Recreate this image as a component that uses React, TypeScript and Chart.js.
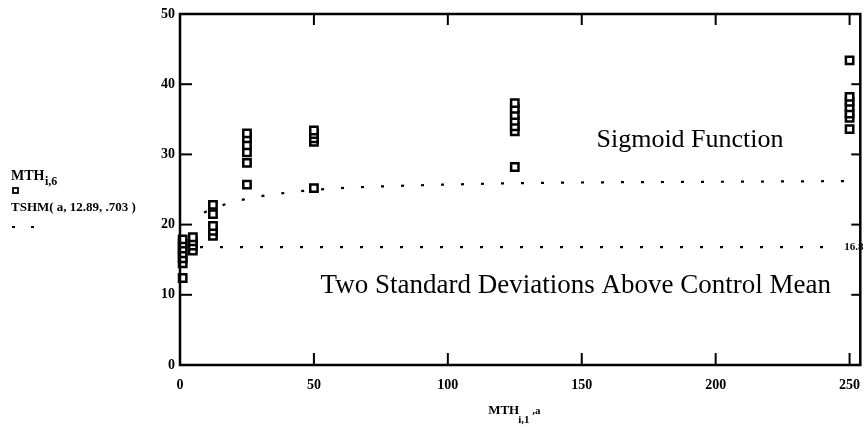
import React, { useEffect, useRef } from "react";
import { Chart, registerables } from "chart.js";

Chart.register(...registerables);

// Dose levels (x) and measured responses (y) per dose
const doseLevels = [1, 4.8, 12.3, 25, 50, 125, 250];
const mthDose0 = [12.4, 14.5, 15.2, 15.9, 16.6, 17.3, 17.9];
const mthDose5 = [16.3, 17.0, 17.6, 18.2];
const mthDose12 = [18.4, 19.1, 19.8, 21.5, 22.8];
const mthDose25 = [25.7, 28.8, 30.3, 31.3, 32.3, 33.0];
const mthDose50 = [25.2, 31.8, 32.3, 32.9, 33.4];
const mthDose125 = [28.2, 33.3, 34.0, 34.8, 35.6, 36.5, 37.3];
const mthDose250 = [33.6, 35.2, 35.8, 36.7, 37.5, 38.2, 43.4];
const responseGroups = [mthDose0, mthDose5, mthDose12, mthDose25, mthDose50, mthDose125, mthDose250];

// Sigmoid fit TSHM(a, 12.89, .703)
const sigmoidX = [9, 12, 17, 24, 31, 39, 46, 60, 80, 100, 125, 150, 200, 250];
const sigmoidY = [21.7, 22.3, 22.9, 23.6, 24.1, 24.5, 24.8, 25.2, 25.5, 25.7, 25.9, 26.0, 26.1, 26.2];

// Two standard deviations above control mean
const controlLevel = 16.8;
const controlX = [0, 244];

const xTicks = [0, 50, 100, 150, 200, 250];
const yTicks = [0, 10, 20, 30, 40, 50];

const SERIF = "'Liberation Serif', 'Times New Roman', serif";

const decorPlugin = {
  id: "decor",
  afterDatasetsDraw(chart: any) {
    const { ctx, chartArea: a, scales } = chart;
    const x = scales.x;
    const y = scales.y;
    ctx.save();
    ctx.strokeStyle = "#000";
    ctx.fillStyle = "#000";
    ctx.lineWidth = 2.5;
    ctx.strokeRect(a.left, a.top, a.right - a.left, a.bottom - a.top);
    ctx.lineWidth = 2;
    const seg = (x1: number, y1: number, x2: number, y2: number) => {
      ctx.beginPath();
      ctx.moveTo(x1, y1);
      ctx.lineTo(x2, y2);
      ctx.stroke();
    };
    x.ticks.forEach((t: any) => {
      const px = x.getPixelForValue(t.value);
      seg(px, a.bottom, px, a.bottom - 12);
      seg(px, a.top, px, a.top + 11);
    });
    y.ticks.forEach((t: any) => {
      const py = y.getPixelForValue(t.value);
      seg(a.left, py, a.left + 12, py);
      seg(a.right, py, a.right - 9, py);
    });

    // annotations
    ctx.textBaseline = "alphabetic";
    ctx.textAlign = "left";
    ctx.font = `26px ${SERIF}`;
    ctx.fillText("Sigmoid Function", x.getPixelForValue(155.5), y.getPixelForValue(31.05));
    ctx.font = `27px ${SERIF}`;
    ctx.fillText("Two Standard Deviations Above Control Mean", x.getPixelForValue(52.5), y.getPixelForValue(10.3));

    ctx.font = `bold 11px ${SERIF}`;
    ctx.textBaseline = "middle";
    ctx.fillText("16.8", a.right - 16, y.getPixelForValue(controlLevel));

    // left legend
    ctx.textBaseline = "alphabetic";
    ctx.font = `bold 14px ${SERIF}`;
    ctx.fillText("MTH", 11, 180);
    ctx.font = `bold 12px ${SERIF}`;
    ctx.fillText("i,6", 45, 185);
    ctx.lineWidth = 1.8;
    ctx.strokeRect(13, 188, 5, 5);
    ctx.font = `bold 13px ${SERIF}`;
    ctx.fillText("TSHM( a, 12.89, .703 )", 11, 211);
    ctx.lineWidth = 2;
    seg(12, 227, 15, 227);
    seg(31, 227, 34, 227);

    // x axis title
    const cx = (a.left + a.right) / 2;
    ctx.font = `bold 13px ${SERIF}`;
    ctx.fillText("MTH", cx - 32, 414);
    ctx.font = `bold 11px ${SERIF}`;
    ctx.fillText("i,1", cx - 2, 423);
    ctx.fillText(",a", cx + 12, 414);
    ctx.restore();
  },
};

export default function App() {
  const ref = useRef<HTMLCanvasElement | null>(null);
  useEffect(() => {
    if (!ref.current) return;
    const points: { x: number; y: number }[] = [];
    responseGroups.forEach((g, i) => g.forEach((v) => points.push({ x: doseLevels[i], y: v })));
    const sigmoid = sigmoidX.map((v, i) => ({ x: v, y: sigmoidY[i] }));
    const control = controlX.map((v) => ({ x: v, y: controlLevel }));
    const chart = new Chart(ref.current, {
      type: "scatter",
      data: {
        datasets: [
          {
            label: "MTH",
            data: points,
            pointStyle: "rect",
            pointRadius: 5.2,
            borderWidth: 2.5,
            borderColor: "#000",
            backgroundColor: "#fff",
            showLine: false,
            clip: false,
          } as any,
          {
            label: "TSHM",
            type: "line",
            data: sigmoid,
            borderColor: "#000",
            borderWidth: 2.2,
            borderDash: [3, 17],
            pointRadius: 0,
            cubicInterpolationMode: "monotone",
            fill: false,
          } as any,
          {
            label: "control",
            type: "line",
            data: control,
            borderColor: "#000",
            borderWidth: 2.2,
            borderDash: [3, 17],
            pointRadius: 0,
            fill: false,
          } as any,
        ],
      },
      options: {
        responsive: false,
        animation: false,
        layout: { padding: { left: 0, right: 5, top: 14, bottom: 0 } },
        plugins: { legend: { display: false }, tooltip: { enabled: false } },
        scales: {
          x: {
            type: "linear",
            min: 0,
            max: 254,
            grid: { display: false, drawTicks: false },
            border: { display: false },
            afterBuildTicks: (s: any) => {
              s.ticks = xTicks.map((v) => ({ value: v }));
            },
            afterFit: (s: any) => {
              s.height = 62;
              s.paddingLeft = 0;
              s.paddingRight = 0;
            },
            ticks: {
              padding: 12,
              color: "#000",
              maxRotation: 0,
              font: { family: SERIF, size: 14, weight: "bold" },
            },
          },
          y: {
            type: "linear",
            min: 0,
            max: 50,
            grid: { display: false, drawTicks: false },
            border: { display: false },
            afterBuildTicks: (s: any) => {
              s.ticks = yTicks.map((v) => ({ value: v }));
            },
            afterFit: (s: any) => {
              s.width = 180;
              s.paddingTop = 0;
              s.paddingBottom = 0;
            },
            ticks: {
              padding: 5,
              color: "#000",
              font: { family: SERIF, size: 14, weight: "bold" },
            },
          },
        },
      },
      plugins: [decorPlugin],
    });
    return () => chart.destroy();
  }, []);
  return (
    <div style={{ position: "absolute", left: 0, top: 0, width: 868, height: 427, background: "#fff" }}>
      <canvas ref={ref} width={868} height={427} style={{ width: 868, height: 427 }} />
    </div>
  );
}
